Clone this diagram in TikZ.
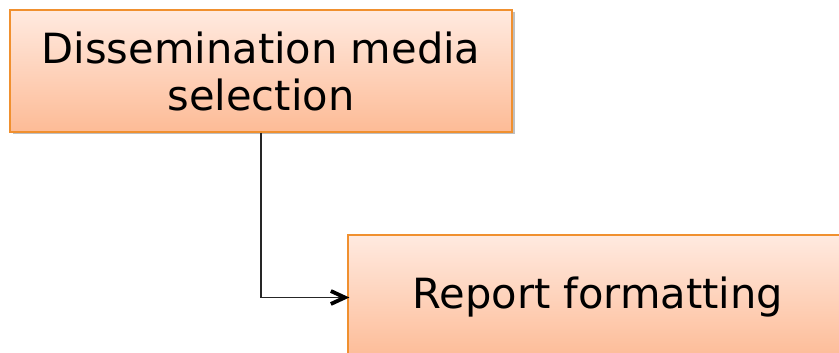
\documentclass[tikz,border=0pt]{standalone}
\usepackage{fontspec}
\setmainfont{DejaVu Sans}
\usetikzlibrary{arrows.meta,shadows}
\definecolor{boxtop}{HTML}{FFEAE0}
\definecolor{boxbot}{HTML}{FDBB96}
\definecolor{boxline}{HTML}{F0902F}
\tikzset{
  stepbox/.style={draw=boxline, line width=1.3pt, top color=boxtop, bottom color=boxbot,
    drop shadow={shadow xshift=2.5pt, shadow yshift=-2.5pt, fill=black, opacity=0.25},
    align=center, font=\fontsize{41.6}{47}\selectfont, inner sep=0pt},
  conn/.style={draw=black!85, line width=1.2pt},
  chev/.style={draw=black, line width=3.8pt, line join=miter}
}
\begin{document}
\begin{tikzpicture}[x=1pt,y=1pt]
\useasboundingbox (0,0) rectangle (839,353);
\clip (0,0) rectangle (839,353);
\node[stepbox, minimum width=502pt, minimum height=122pt] (a) at (261,282) {Dissemination media\\selection};
\node[stepbox, minimum width=500pt, minimum height=125pt] (b) at (598,55.5) {Report formatting};
\coordinate (k) at (a.south |- b.west);
\coordinate (tip) at ([xshift=-2.5pt]b.west);
\draw[conn] (a.south) -- (k) -- (tip);
\draw[chev] ([shift={(-14pt,6.5pt)}]tip) -- (tip) -- ([shift={(-14pt,-6.5pt)}]tip);
\end{tikzpicture}
\end{document}
